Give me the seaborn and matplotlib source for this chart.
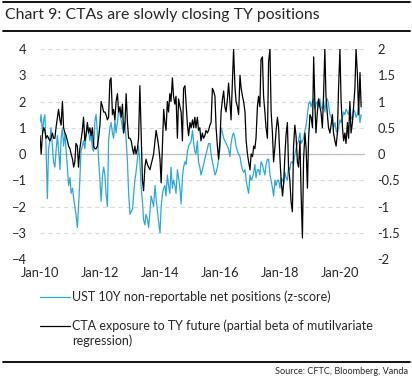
import numpy as np
import pandas as pd
from matplotlib import pyplot as plt
from matplotlib.lines import Line2D
from matplotlib.ticker import FuncFormatter
import seaborn as sns

# semi-monthly readings, Jan 2010 -> Sep 2020
# UST 10Y non-reportable net positions (z-score), left axis
ust_z = [
    1.2, 1.5, 0.8, 1.3, 1.5, 0.3, -1.7, 0.2,
    0.5, 1.0, 0.3, -0.3, -0.5, 0.1, 0.7, 0.2,
    -0.6, 0.6, 1.0, 0.3, 0.8, 0.1, -0.5, -1.2,
    -0.9, -1.5, -1.3, -1.7, -2.0, -2.3, -2.8, -2.0,
    -1.0, 0.1, 0.3, 0.5, 0.2, 0.7, 1.1, 0.9,
    0.5, 0.8, 0.2, 0.1, 1.3, 1.5, 0.8, -0.2,
    -1.0, -1.8, -0.8, -0.5, -0.8, -1.5, -2.0, 0.5,
    1.0, 1.2, 0.8, 0.6, 1.3, 0.8, 1.2, 1.7,
    1.5, 1.3, 1.0, 0.8, 1.2, 0.5, -0.3, -1.5,
    -2.3, -2.2, -2.1, -1.5, -1.0, -0.7, -0.2, 0.3,
    -0.3, -1.2, -1.8, -2.5, -2.7, -2.3, -2.5, -2.8,
    -2.2, -1.6, -1.8, -2.0, -1.2, -1.7, -2.2, -2.6,
    -3.0, -2.0, -1.5, -1.3, -1.2, -1.6, -0.8, -1.2,
    -1.5, -0.5, -1.3, -1.0, -1.2, -1.5, -0.6, -0.9,
    -1.3, -1.9, -0.9, -0.5, -0.3, -0.4, 0.1, 0.3,
    0.4, 0.5, 0.9, 0.4, 0.1, 0.0, 0.5, -0.3,
    -0.5, -0.8, -0.6, -0.4, -0.2, 0.0, 0.2, 0.4,
    0.4, 0.0, -0.3, -0.5, -0.8, -0.7, -0.5, -0.2,
    0.2, 1.0, 0.8, 0.6, 0.5, 0.4, 0.3, 0.2,
    -0.1, 0.4, 0.7, 0.8, 0.6, 0.3, 0.1, 0.0,
    -0.1, -0.4, -0.6, -0.7, -0.6, -1.0, -1.3, -1.5,
    -0.8, -1.0, -0.9, -0.7, -0.4, -0.9, -0.6, -0.6,
    -0.8, -0.3, -0.4, -0.6, -0.8, -0.4, -0.2, -0.2,
    -0.8, -1.0, -1.3, -1.6, -1.0, -1.2, -1.0, -1.0,
    -1.3, -0.9, -1.0, -1.1, -0.7, -0.9, -1.0, -0.5,
    -0.6, -0.3, -0.3, -0.4, 0.0, 0.2, 0.4, 0.5,
    0.8, 0.4, 0.5, 0.6, 0.9, 1.1, 1.5, 1.9,
    2.0, 1.8, 2.0, 2.1, 1.7, 1.9, 2.0, 1.8,
    2.1, 1.8, 1.7, 2.0, 1.6, 2.0, 2.1, 1.9,
    1.5, 1.4, 1.2, 1.0, 1.2, 0.9, 0.8, 1.0,
    1.3, 1.2, 1.4, 1.6, 1.5, 1.7, 1.6, 1.5,
    1.8, 1.4, 1.3, 1.7, 1.6, 1.4, 1.5, 1.8,
    1.2, 1.5,
]

# CTA exposure to TY future (partial beta), right axis
cta_beta = [
    0.35, 0.0, 0.4, 0.5, 0.45, 0.3, 0.35, 0.3,
    0.25, 0.3, 0.4, 0.3, 0.3, 0.5, 0.7, 0.85,
    0.65, 0.55, 1.0, 0.5, 0.4, 0.35, 0.25, 0.15,
    0.1, 0.0, -0.1, -0.25, -0.15, 0.2, 0.15, -0.25,
    0.1, 0.25, 0.45, 0.7, 0.25, 0.35, 0.6, 0.4,
    0.5, 0.35, 0.5, 0.15, 0.1, 0.1, 0.15, 0.3,
    0.55, 1.0, 0.9, 0.8, 0.8, 0.75, 0.65, 0.7,
    1.4, 1.45, 0.75, 0.85, 0.65, 1.0, 1.15, 0.8,
    0.9, 0.7, 0.95, 0.4, 0.6, 1.15, 0.6, 0.3,
    0.3, 0.25, 0.1, 0.0, 0.15, 0.0, 0.1, 0.3,
    1.3, 0.5, -0.5, -0.7, -0.25, -0.1, -0.2, -0.25,
    -0.3, -0.2, -0.1, 0.0, 0.25, 0.45, 0.3, 0.15,
    -0.1, -0.55, 0.25, 0.85, 0.6, 0.45, 1.0, 0.8,
    1.15, 1.0, 1.45, 1.1, 0.95, 1.1, 0.3, 1.05,
    0.9, 0.8, 0.25, 1.25, 1.3, 0.95, 0.55, 0.35,
    0.6, 0.5, 0.65, 0.5, 0.7, 0.5, 0.7, 0.45,
    0.5, 0.25, 0.4, 0.3, 0.35, 0.45, 0.4, 0.45,
    0.55, 0.6, 1.25, 1.2, 1.1, 0.5, 0.15, -0.1,
    0.25, 0.8, 1.05, 1.2, 0.9, 0.8, 1.05, 1.35,
    1.0, 0.65, 1.4, 2.0, 1.3, 1.0, 0.9, 0.75,
    1.5, 1.25, 1.1, 1.0, 0.8, 0.25, 0.0, -0.15,
    -0.3, 0.0, -0.05, 0.15, 0.1, 0.3, 0.9, 1.1,
    0.9, 1.8, 1.85, 1.1, 0.8, 0.5, 0.3, 1.75,
    2.0, 0.8, 0.4, -0.15, 0.15, 0.45, 0.7, 0.5,
    -0.1, -0.5, -0.8, -0.55, -0.05, 0.35, 0.6, -0.25,
    -0.5, -0.9, -1.1, 0.15, 0.55, 0.35, -0.15, -0.25,
    0.25, -0.75, -1.6, -0.1, 0.4, 0.1, -0.65, 0.3,
    0.75, 0.7, 0.5, 1.85, 1.0, 0.4, 0.8, 1.05,
    0.9, 0.8, 0.5, 1.1, 2.0, 1.1, 0.75, 0.5,
    0.4, 0.55, 0.75, 0.4, 0.25, 0.15, 0.4, 1.25,
    2.0, 1.0, 0.5, 0.25, 0.4, 0.2, 0.6, 0.3,
    1.0, 0.4, 0.6, 0.9, 1.25, 2.0, 1.5, 0.75,
    1.55, 0.9,
]

dates = pd.date_range('2010-01-01', periods=len(ust_z), freq='SMS')
tick_years = [2010, 2012, 2014, 2016, 2018, 2020]

title = 'Chart 9: CTAs are slowly closing TY positions'
label_ust = 'UST 10Y non-reportable net positions (z-score)'
label_cta = 'CTA exposure to TY future (partial beta of mutilvariate\nregression)'
source = 'Source: CFTC, Bloomberg, Vanda'

BLUE = '#2ea8d8'
TXT = '#262626'

sns.set_style('white')
plt.rcParams['font.family'] = ['Lato', 'DejaVu Sans']

W, H = 412, 383
fig = plt.figure(figsize=(W / 100, H / 100), dpi=100)
ax = fig.add_axes([40 / W, 1 - 259 / H, 325 / W, 210 / H])
ax2 = ax.twinx()

sns.lineplot(x=dates, y=ust_z, ax=ax, color=BLUE, lw=0.9)
sns.lineplot(x=dates, y=cta_beta, ax=ax2, color='black', lw=0.9)

ax.set_ylim(-4, 4)
ax2.set_ylim(-2, 2)
ax.set_yticks(range(-4, 5))
ax2.set_yticks(np.arange(-2, 2.01, 0.5))
ax2.yaxis.set_major_formatter(FuncFormatter(lambda v, p: '{:g}'.format(v)))
ax.set_xlim(pd.Timestamp('2010-01-01'), pd.Timestamp('2020-11-01'))
ax.set_xticks([pd.Timestamp(f'{y}-01-01') for y in tick_years])
ax.set_xticklabels([pd.Timestamp(f'{y}-01-01').strftime('%b-%y') for y in tick_years])

ax.grid(axis='y', color='#d9d9d9', ls=(0, (4, 3)), lw=0.8)
ax.grid(axis='x', visible=False)
ax.set_axisbelow(True)
ax.axhline(0, color='#bfbfbf', lw=0.9, zorder=1)
for a in (ax, ax2):
    for s in a.spines.values():
        s.set_visible(False)
    a.set_xlabel('')
    a.set_ylabel('')
ax.tick_params(axis='y', length=0, pad=10, labelsize=9.3, labelcolor=TXT)
ax.tick_params(axis='x', length=0, pad=6, labelsize=9.3, labelcolor=TXT)
ax2.tick_params(axis='y', length=0, pad=9, labelsize=9.3, labelcolor=TXT)

# header / footer rules
for yy, lw in [(2, 1.3), (31, 1.3), (362, 1.3)]:
    fig.add_artist(Line2D([3 / W, 410 / W], [1 - yy / H] * 2, color='black', lw=lw))

fig.text(5 / W, 1 - 15 / H, title, fontsize=11.4, va='center', color=TXT)

# legend
fig.add_artist(Line2D([40 / W, 70 / W], [1 - 297 / H] * 2, color=BLUE, lw=0.9))
fig.text(72 / W, 1 - 297 / H, label_ust, fontsize=9, va='center', color=TXT)
fig.add_artist(Line2D([40 / W, 70 / W], [1 - 326 / H] * 2, color='black', lw=0.9))
fig.text(72 / W, 1 - 319 / H, label_cta, fontsize=9, va='top', color=TXT, linespacing=1.25)

fig.text(408 / W, 1 - 372 / H, source, fontsize=6.6, ha='right', va='center', color=TXT)

fig.savefig('out.png', dpi=100)
